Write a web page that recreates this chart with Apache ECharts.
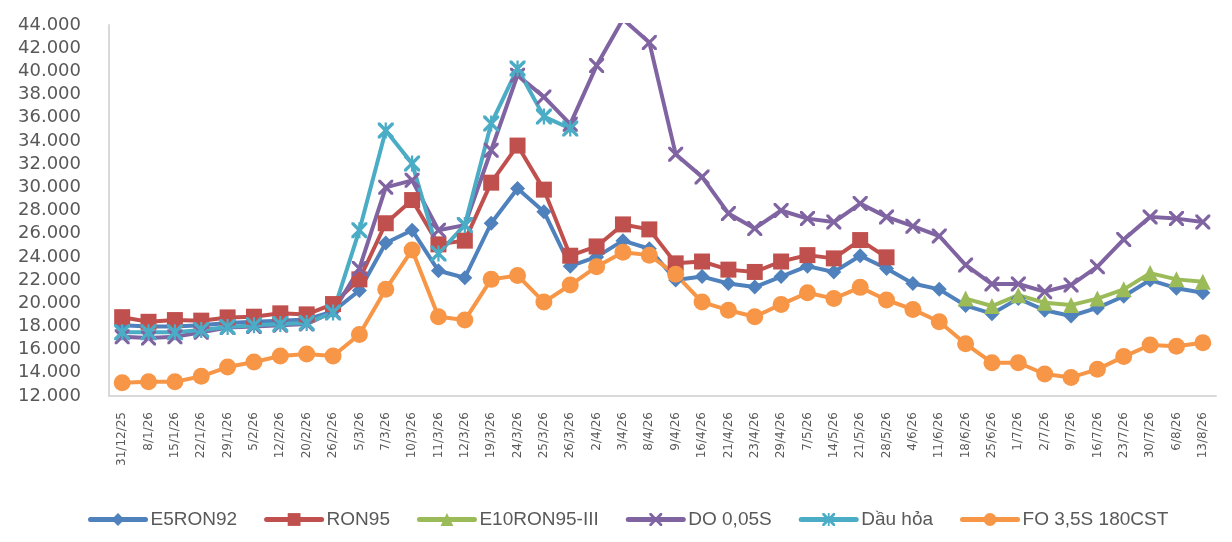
<!DOCTYPE html>
<html>
<head>
<meta charset="utf-8">
<title>Giá xăng dầu</title>
<script src="https://cdn.jsdelivr.net/npm/echarts@6.0.0/dist/echarts.min.js"></script>
<style>
  html, body { margin: 0; padding: 0; background: #fff; }
  #chart { width: 1232px; height: 542px; }
</style>
</head>
<body>
<div id="chart"></div>
<script>
// ky dieu chinh gia
var dates = ['31/12/25', '8/1/26', '15/1/26', '22/1/26', '29/1/26', '5/2/26', '12/2/26', '20/2/26', '26/2/26',
  '5/3/26', '7/3/26', '10/3/26', '11/3/26', '12/3/26', '19/3/26', '24/3/26', '25/3/26', '26/3/26',
  '2/4/26', '3/4/26', '8/4/26', '9/4/26', '16/4/26', '21/4/26', '23/4/26', '29/4/26',
  '7/5/26', '14/5/26', '21/5/26', '28/5/26', '4/6/26', '11/6/26', '18/6/26', '25/6/26',
  '1/7/26', '2/7/26', '9/7/26', '16/7/26', '23/7/26', '30/7/26', '6/8/26', '13/8/26'];

var e5ron92 = [18100, 18000, 18000, 18100, 18300, 18400, 18500, 18600, 19300, 21100, 25200, 26300, 22800, 22200,
  26900, 29900, 27900, 23200, 24000, 25400, 24700, 22000, 22300, 21700, 21400, 22300, 23200, 22700, 24100, 23000,
  21700, 21200, 19800, 19100, 20400, 19400, 18900, 19600, 20600, 22000, 21300, 20900];

var ron95 = [18800, 18400, 18550, 18500, 18780, 18840, 19130, 19040, 19930, 22060, 26900, 28900, 25080, 25400,
  30400, 33600, 29800, 24100, 24900, 26800, 26370, 23440, 23600, 22900, 22700, 23600, 24150, 23870, 25450, 23960,
  null, null, null, null, null, null, null, null, null, null, null, null];

var e10ron95 = [null, null, null, null, null, null, null, null, null, null, null, null, null, null,
  null, null, null, null, null, null, null, null, null, null, null, null, null, null, null, null,
  null, null, 20400, 19760, 20700, 20040, 19840, 20400, 21200, 22600, 22060, 21850];

var do005s = [17100, 17000, 17100, 17500, 17900, 18000, 18100, 18200, 19270, 23000, 30000, 30600, 26300, 26740,
  33200, 39670, 37800, 35450, 40500, 44500, 42500, 32860, 30900, 27750, 26450, 28000, 27300, 27000, 28600, 27450,
  26650, 25800, 23300, 21660, 21660, 21000, 21570, 23150, 25500, 27450, 27300, 27000];

var dauhoa = [17500, 17500, 17500, 17700, 17950, 18100, 18200, 18300, 19200, 26300, 34900, 32060, 24300, 26740,
  35500, 40250, 36100, 35070, null, null, null, null, null, null, null, null, null, null, null, null,
  null, null, null, null, null, null, null, null, null, null, null, null];

var fo35s = [13150, 13220, 13220, 13700, 14500, 14930, 15450, 15620, 15450, 17300, 21200, 24600, 18840, 18550,
  22060, 22400, 20100, 21570, 23150, 24400, 24150, 22500, 20100, 19400, 18840, 19900, 20900, 20400, 21370, 20280,
  19470, 18400, 16500, 14870, 14870, 13900, 13600, 14300, 15400, 16400, 16300, 16600];

var xPath = 'path://M0,0 L3,0 L10,7 L17,0 L20,0 L20,3 L13,10 L20,17 L20,20 L17,20 L10,13 L3,20 L0,20 L0,17 L7,10 L0,3 Z';
var starPath = 'path://M0,0 L3,0 L10,7 L17,0 L20,0 L20,3 L13,10 L20,17 L20,20 L17,20 L10,13 L3,20 L0,20 L0,17 L7,10 L0,3 Z M8.6,0 L11.4,0 L11.4,20 L8.6,20 Z';

function mkSeries(name, data, color, symbol, size) {
  return {
    name: name,
    type: 'line',
    data: data,
    symbol: symbol,
    symbolSize: size,
    showAllSymbol: true,
    connectNulls: false,
    itemStyle: { color: color },
    lineStyle: { color: color, width: 4, cap: 'round', join: 'round' }
  };
}

var chart = echarts.init(document.getElementById('chart'));

var option = {
  animation: false,
  textStyle: { fontFamily: 'DejaVu Sans' },
  grid: { left: 109, right: 16, top: 25, bottom: 146, containLabel: false },
  legend: {
    left: 83,
    top: 505,
    itemWidth: 55,
    itemHeight: 16,
    itemGap: 27,
    lineStyle: { width: 5 },
    textStyle: { fontFamily: 'Liberation Sans', fontSize: 19, color: '#595959' },
    data: ['E5RON92', 'RON95', 'E10RON95-III', 'DO 0,05S', 'Dầu hỏa', 'FO 3,5S 180CST']
  },
  xAxis: {
    type: 'category',
    data: dates,
    boundaryGap: true,
    axisLine: { show: true, lineStyle: { color: '#D9D9D9', width: 2 } },
    axisTick: { show: false },
    axisLabel: {
      interval: 0,
      rotate: 90,
      margin: 16,
      fontSize: 12,
      color: '#595959',
      fontFamily: 'DejaVu Sans'
    }
  },
  yAxis: {
    type: 'value',
    min: 12000,
    max: 44000,
    interval: 2000,
    axisLine: { show: true, lineStyle: { color: '#D9D9D9', width: 2 } },
    axisTick: { show: false },
    splitLine: { show: false },
    axisLabel: {
      margin: 28,
      fontSize: 18,
      color: '#595959',
      fontFamily: 'DejaVu Sans',
      formatter: function (v) {
        return String(v).replace(/\B(?=(\d{3})+(?!\d))/g, '.');
      }
    }
  },
  series: [
    mkSeries('E5RON92', e5ron92, '#4F81BD', 'diamond', 15),
    mkSeries('RON95', ron95, '#C0504D', 'rect', 16),
    mkSeries('E10RON95-III', e10ron95, '#9BBB59', 'triangle', 16),
    mkSeries('DO 0,05S', do005s, '#8064A2', xPath, 15),
    mkSeries('Dầu hỏa', dauhoa, '#4BACC6', starPath, 16),
    mkSeries('FO 3,5S 180CST', fo35s, '#F79646', 'circle', 17)
  ]
};

chart.setOption(option);
</script>
</body>
</html>
